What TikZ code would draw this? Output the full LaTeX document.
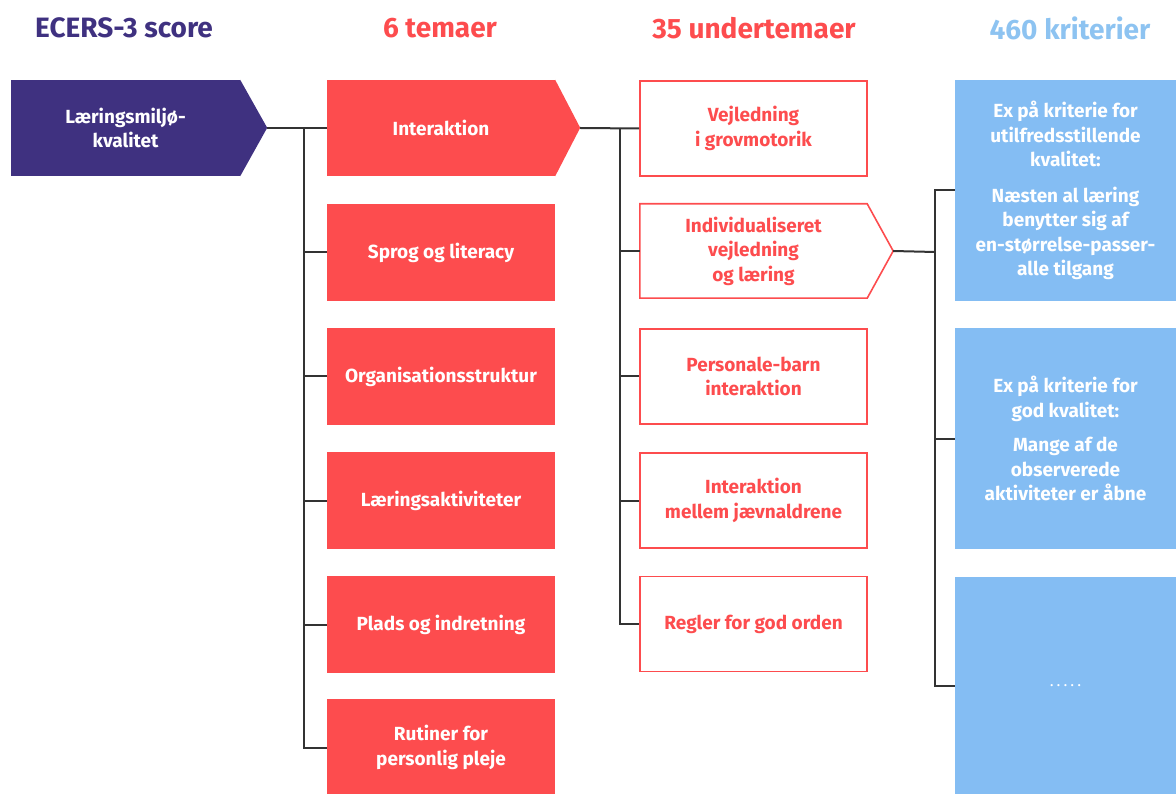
\documentclass[tikz,border=0pt]{standalone}
\usepackage{fontspec}
\setmainfont{Fira Sans}
\definecolor{cpurple}{HTML}{3F3180}
\definecolor{cred}{HTML}{FD4C4E}
\definecolor{cblue}{HTML}{84BDF3}
\definecolor{cbluetxt}{HTML}{8DC3F1}
\definecolor{cline}{HTML}{333333}
\begin{document}
\begin{tikzpicture}[x=1pt,y=-1pt,
  hdr/.style={font=\bfseries\fontsize{28}{30}\selectfont, inner sep=0pt},
  lbl/.style={font=\bfseries\fontsize{19}{24.5}\selectfont, align=center, text=white, inner sep=0pt},
  purplebox/.style={lbl, fill=cpurple, minimum width=229pt, minimum height=96pt},
  redbox/.style={lbl, fill=cred, minimum width=228pt, minimum height=97pt},
  outbox/.style={lbl, text=cred, draw=cred, line width=1.6pt, fill=white, minimum width=227pt, minimum height=95pt},
  outbody/.style={lbl, text=cred, fill=white, minimum width=227pt, minimum height=95pt},
  bluebox/.style={lbl, fill=cblue, minimum width=221pt},
  conn/.style={draw=cline, line width=2pt}]
\useasboundingbox (0,0) rectangle (1176,794);

% headers
\node[hdr, text=cpurple] (h1) at (124,28) {ECERS-3 score};
\node[hdr, text=cred] (h2) at (440,28) {6 temaer};
\node[hdr, text=cred] (h3) at (754,28) {35 undertemaer};
\node[hdr, text=cbluetxt] (h4) at (1070,28) {460 kriterier};

% level 1
\node[purplebox] (ecers) at (125.5,128) {Læringsmiljø-\\kvalitet};
\fill[cpurple] (ecers.north east) -- ++(27,48) -- (ecers.south east) -- cycle;
\coordinate (ecerstip) at ([xshift=27pt]ecers.east);

% level 2
\node[redbox, minimum height=96pt] (inter) at (441,128) {Interaktion};
\fill[cred] (inter.north east) -- ++(25,48) -- (inter.south east) -- cycle;
\coordinate (intertip) at ([xshift=25pt]inter.east);
\node[redbox] (sprog) at (441,252.5) {Sprog og literacy};
\node[redbox] (org) at (441,376.5) {Organisationsstruktur};
\node[redbox] (laer) at (441,500.5) {Læringsaktiviteter};
\node[redbox] (plads) at (441,624.5) {Plads og indretning};
\node[redbox] (rut) at (441,747.5) {Rutiner for\\personlig pleje};

% level 3
\node[outbox] (vejl) at (753.5,128.5) {Vejledning\\i grovmotorik};
\node[outbody, minimum height=94pt] (indiv) at (753.5,251) {Individualiseret\\vejledning\\og læring};
\coordinate (indivtip) at ([xshift=26pt]indiv.east);
\draw[cred, line width=1.6pt, line join=miter] (indiv.north west) -- (indiv.north east) -- (indivtip) -- (indiv.south east) -- (indiv.south west) -- cycle;
\node[outbox] (pers) at (753.5,376.5) {Personale-barn\\interaktion};
\node[outbox] (jaev) at (753.5,500.5) {Interaktion\\mellem jævnaldrene};
\node[outbox] (regl) at (753.5,624) {Regler for god orden};

% level 4
\node[bluebox, minimum height=221pt] (k1) at (1065.5,190.5) {Ex på kriterie for\\utilfredsstillende\\kvalitet:\\[11pt]Næsten al læring\\benytter sig af\\en-størrelse-passer-\\alle tilgang};
\node[bluebox, minimum height=221pt] (k2) at (1065.5,438.5) {Ex på kriterie for\\god kvalitet:\\[10pt]Mange af de\\observerede\\aktiviteter er åbne};
\node[bluebox, minimum height=219pt, font=\bfseries\fontsize{12}{14}\selectfont] (k3) at (1065.5,686) {.\hspace{4pt}.\hspace{4pt}.\hspace{4pt}.\hspace{4pt}.};

% connectors
\coordinate (bus1) at (304,128);
\coordinate (bus2) at (620,128);
\coordinate (bus3) at (935,252);
\draw[conn] (ecerstip) -- (inter.west);
\foreach \n in {sprog,org,laer,plads,rut} \draw[conn] (bus1) |- (\n.west);
\draw[conn] (intertip) -- (vejl.west);
\foreach \n in {indiv,pers,jaev,regl} \draw[conn] (bus2) |- (\n.west);
\draw[conn] (indivtip) -- (bus3);
\foreach \n in {k1,k2,k3} \draw[conn] (bus3) |- (\n.west);
\end{tikzpicture}
\end{document}
